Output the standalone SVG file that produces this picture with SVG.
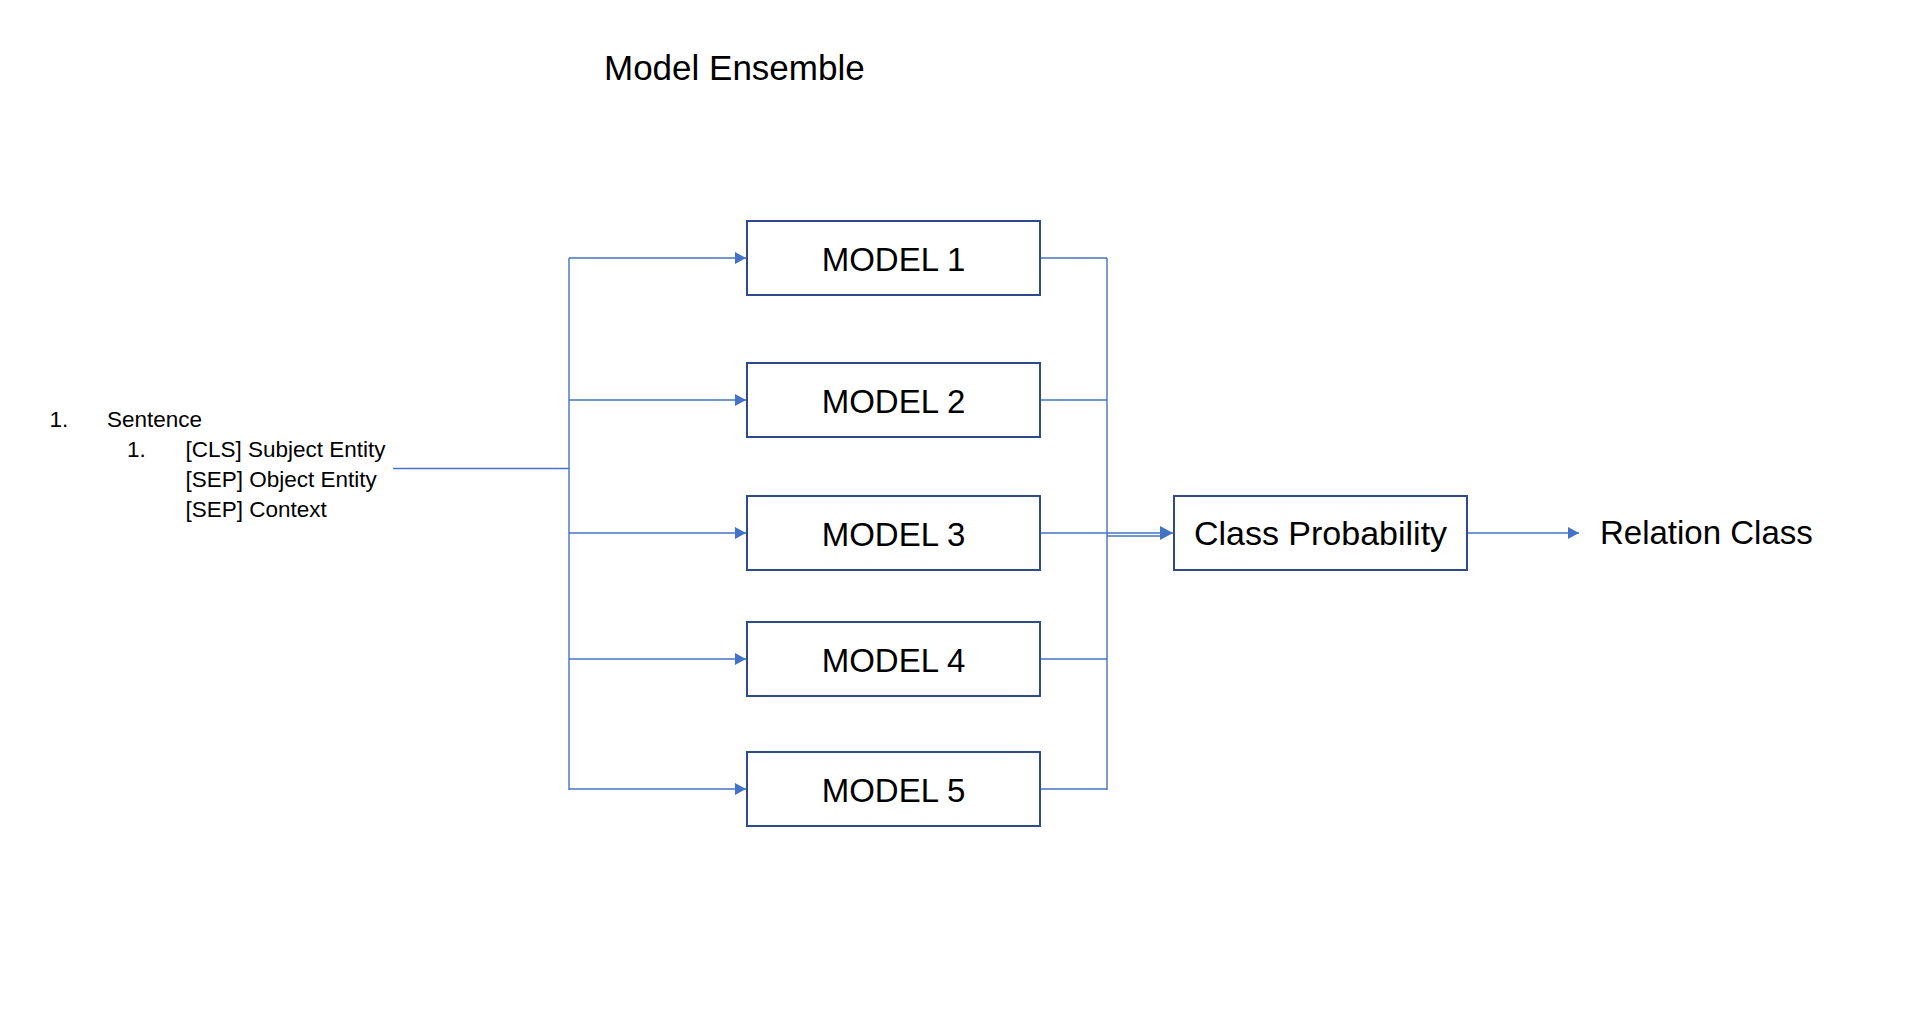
<svg xmlns="http://www.w3.org/2000/svg" width="1922" height="1028" viewBox="0 0 1922 1028">
<style>
.txt{font-family:"Liberation Sans",Arial,sans-serif;fill:#000}
.big{font-size:33px}
.small{font-size:22.5px}
.box{fill:#fff;stroke:#2F4A8A;stroke-width:2}
.ln{fill:none;stroke:#4472C4;stroke-width:1.4}
</style>
<defs>
<marker id="arr" markerUnits="userSpaceOnUse" markerWidth="12" markerHeight="13" refX="11" refY="6" orient="auto" viewBox="0 0 12 13">
<path d="M0,0 L11,6 L0,12 Z" fill="#4472C4"/>
</marker>
<marker id="arrL" markerUnits="userSpaceOnUse" markerWidth="14" markerHeight="15" refX="13" refY="7" orient="auto" viewBox="0 0 14 15">
<path d="M0,0 L13,7 L0,14 Z" fill="#4472C4"/>
</marker>
</defs>
<rect width="1922" height="1028" fill="#fff"/>
<text id="title" class="txt" x="604" y="80" font-size="35">Model Ensemble</text>

<g id="input">
<text class="txt small" x="49.5" y="426.5">1.</text>
<text class="txt small" x="107" y="426.5">Sentence</text>
<text class="txt small" x="127" y="456.5">1.</text>
<text class="txt small" x="185.5" y="456.5">[CLS] Subject Entity</text>
<text class="txt small" x="185.5" y="486.5">[SEP] Object Entity</text>
<text class="txt small" x="185.5" y="516.5">[SEP] Context</text>
</g>

<g id="connectors">
<line class="ln" x1="393" y1="468.5" x2="569" y2="468.5"/>
<line class="ln" x1="569" y1="258" x2="569" y2="790"/>
<line class="ln" x1="569" y1="258" x2="746" y2="258" marker-end="url(#arr)"/>
<line class="ln" x1="569" y1="400" x2="746" y2="400" marker-end="url(#arr)"/>
<line class="ln" x1="569" y1="533" x2="746" y2="533" marker-end="url(#arr)"/>
<line class="ln" x1="569" y1="659" x2="746" y2="659" marker-end="url(#arr)"/>
<line class="ln" x1="569" y1="789" x2="746" y2="789" marker-end="url(#arr)"/>
<line class="ln" x1="1107" y1="258" x2="1107" y2="790"/>
<line class="ln" x1="1041" y1="258" x2="1107" y2="258"/>
<line class="ln" x1="1041" y1="400" x2="1107" y2="400"/>
<line class="ln" x1="1041" y1="533" x2="1107" y2="533"/>
<line class="ln" x1="1041" y1="659" x2="1107" y2="659"/>
<line class="ln" x1="1041" y1="789" x2="1107" y2="789"/>
<line class="ln" x1="1107" y1="533" x2="1173" y2="533" marker-end="url(#arrL)"/>
<line class="ln" x1="1107" y1="536" x2="1162" y2="536"/>
<line class="ln" x1="1468" y1="533" x2="1579" y2="533" marker-end="url(#arr)"/>
</g>

<g id="model1"><rect class="box" x="747" y="221" width="293" height="74"/><text class="txt big" x="893.5" y="270.5" text-anchor="middle">MODEL 1</text></g>
<g id="model2"><rect class="box" x="747" y="363" width="293" height="74"/><text class="txt big" x="893.5" y="412.5" text-anchor="middle">MODEL 2</text></g>
<g id="model3"><rect class="box" x="747" y="496" width="293" height="74"/><text class="txt big" x="893.5" y="545.5" text-anchor="middle">MODEL 3</text></g>
<g id="model4"><rect class="box" x="747" y="622" width="293" height="74"/><text class="txt big" x="893.5" y="671.5" text-anchor="middle">MODEL 4</text></g>
<g id="model5"><rect class="box" x="747" y="752" width="293" height="74"/><text class="txt big" x="893.5" y="801.5" text-anchor="middle">MODEL 5</text></g>
<g id="classprob"><rect class="box" x="1174" y="496" width="293" height="74"/><text class="txt" x="1320.5" y="545" font-size="34" text-anchor="middle">Class Probability</text></g>
<g id="relation"><text class="txt big" x="1600" y="544">Relation Class</text></g>
</svg>
